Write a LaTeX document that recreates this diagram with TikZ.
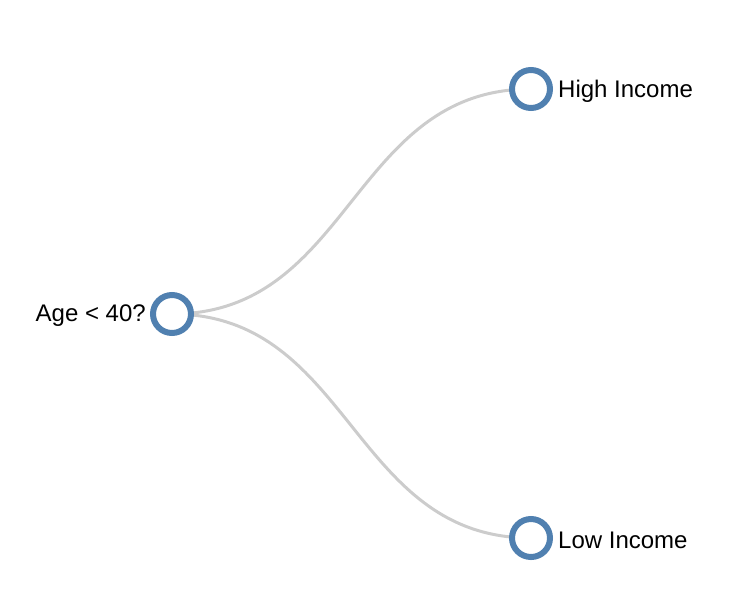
\documentclass[tikz,border=0pt]{standalone}
\usepackage{fontspec}
\setmainfont{Liberation Sans}
\usetikzlibrary{backgrounds}

\definecolor{nodeblue}{RGB}{80,128,176}
\definecolor{linkgray}{RGB}{204,204,204}

\begin{document}
\begin{tikzpicture}[x=1pt,y=-1pt]
  \tikzset{treenode/.style = {circle, draw = nodeblue, line width = 6pt,
                              fill = white, minimum size = 38pt, inner sep = 0pt}}
  \tikzset{treelink/.style = {draw = linkgray, line width = 3pt}}
  \tikzset{treelabel/.style = {font = \fontsize{24}{28}\selectfont, inner sep = 0pt}}
  \useasboundingbox (0,0) rectangle (752,614);

  \node[treenode] (age) at (172,314) {};
  \node[treenode] (high) at (531,89) {};
  \node[treenode] (low) at (531,538) {};

  \node[treelabel, anchor = east] (agetext) at (146,316) {Age < 40?};
  \node[treelabel, anchor = west] (hightext) at (558,91) {High Income};
  \node[treelabel, anchor = west] (lowtext) at (558,540) {Low Income};

  \begin{pgfonlayer}{background}
    \draw[treelink] (age.center) .. controls +(179.5,0) and +(-179.5,0) .. (high.center);
    \draw[treelink] (age.center) .. controls +(179.5,0) and +(-179.5,0) .. (low.center);
  \end{pgfonlayer}
\end{tikzpicture}
\end{document}
